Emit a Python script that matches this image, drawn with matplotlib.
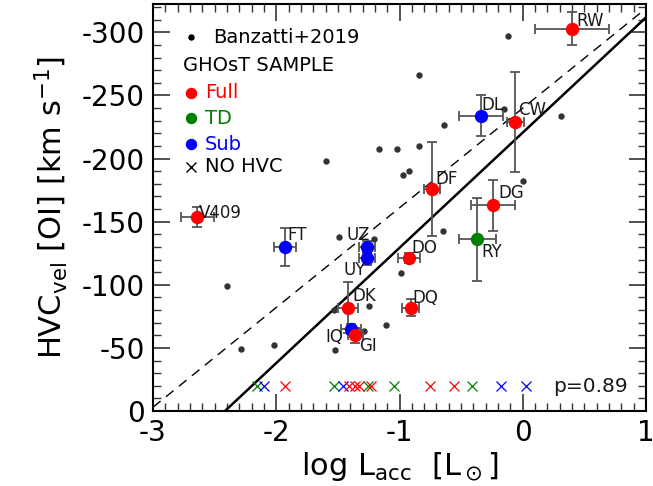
import numpy as np
import matplotlib
matplotlib.use('Agg')
from matplotlib import pyplot as plt
from matplotlib.ticker import MultipleLocator

plt.rcParams['font.family'] = ['DejaVu Sans']
plt.rcParams['mathtext.fontset'] = 'dejavusans'
plt.rcParams['axes.unicode_minus'] = False

# Banzatti+2019 comparison sample (log Lacc, HVC velocity)
banz_x = [-2.40, -2.29, -2.02, -1.60, -1.49, -1.21, -1.53, -1.25, -1.11, -1.29,
          -1.52, -0.99, -1.17, -1.02, -0.84, -0.97, -0.92, -0.65, -0.84, -0.64,
          -0.15, -0.12, 0.31, 0.00]
banz_y = [-99, -49, -52, -198, -138, -136, -80, -83, -68, -63,
          -48, -109, -208, -208, -210, -187, -190, -143, -266, -227,
          -239, -297, -234, -182]

# GHOsT sample
names = ['RW', 'DL', 'CW', 'DF', 'DG', 'RY', 'DO', 'DQ', 'V409', 'FT',
         'UZ', 'UY', 'DK', 'IQ', 'GI']
groups = ['Full', 'Sub', 'Full', 'Full', 'Full', 'TD', 'Full', 'Full', 'Full', 'Sub',
          'Sub', 'Sub', 'Full', 'Sub', 'Full']
lacc = [0.40, -0.34, -0.06, -0.74, -0.24, -0.37, -0.92, -0.91, -2.64, -1.93,
        -1.26, -1.26, -1.415, -1.395, -1.36]
lacc_err = [0.30, 0.18, 0.07, 0.065, 0.18, 0.15, 0.09, 0.07, 0.135, 0.09,
            0.065, 0.065, 0.08, 0.08, 0.06]
hvc = [-303, -234, -229, -176, -163, -136, -121, -82, -154, -130,
       -130, -121, -82, -65, -60]
hvc_err = [13, 16, 40, 37, 20, 33, 4, 7, 8, 15,
           5, 5, 20, 4, 6]

# label offsets (pixels)
lab_off = [(4, 8), (1, 11), (3, 12), (4, 10), (5, 12), (4, -13), (2, 10), (2, 10),
           (2, 4), (2, 12), (-21, 12), (-24, -12), (4, 12), (-25, -8), (4, -11)]

# targets without HVC detection
nohvc_x = [-2.153, -2.097, -1.929, -1.528, -1.460, -1.407, -1.360, -1.326,
           -1.252, -1.233, -1.044, -0.752, -0.554, -0.413, -0.178, 0.028]
nohvc_grp = ['TD', 'Sub', 'Full', 'TD', 'Sub', 'Full', 'Full', 'Full',
             'TD', 'Full', 'TD', 'Full', 'Full', 'TD', 'Sub', 'Sub']
nohvc_y = -20

colors = {'Full': 'red', 'TD': 'green', 'Sub': 'blue'}

# fits
fit_slope, fit_icpt = -91.3, -220.6
banz_slope, banz_icpt = -79.0, -240.0

fig = plt.figure(figsize=(6.53, 4.86), dpi=100)
ax = fig.add_axes([153 / 653, 1 - 411 / 486, 493 / 653, 407 / 486])

xx = np.array([-3, 1])
ax.plot(xx, banz_icpt + banz_slope * xx, 'k--', lw=1.0, dashes=(7, 5))
ax.plot(xx, fit_icpt + fit_slope * xx, 'k-', lw=1.8)

ax.plot(banz_x, banz_y, 'o', color='#333333', ms=3.6, zorder=3)

for i in range(len(names)):
    ax.errorbar(lacc[i], hvc[i], xerr=lacc_err[i], yerr=hvc_err[i], fmt='none',
                ecolor='#555555', elinewidth=1.3, capsize=3.6, capthick=1.3, zorder=4)
for i in range(len(names)):
    ax.plot(lacc[i], hvc[i], 'o', color=colors[groups[i]], ms=8.6, zorder=5)
    ax.annotate(names[i], (lacc[i], hvc[i]), xytext=lab_off[i],
                textcoords='offset pixels', fontsize=12, va='center', ha='left',
                color='#1a1a1a', zorder=6)

for i in range(len(nohvc_x)):
    ax.plot(nohvc_x[i], nohvc_y, 'x', color=colors[nohvc_grp[i]], ms=6.5, mew=0.9)

ax.text(0.963, 0.06, 'p=0.89', transform=ax.transAxes, fontsize=14.5,
        ha='right', va='center', color='#1a1a1a')

# legend built by hand
tr = ax.transAxes
ax.plot(0.077, 0.920, 'o', color='black', ms=3.6, transform=tr)
ax.text(0.121, 0.918, 'Banzatti+2019', transform=tr, fontsize=14, va='center')
ax.text(0.060, 0.848, 'GHOsT SAMPLE', transform=tr, fontsize=14, va='center')
leg_y = [0.782, 0.719, 0.656]
for lab, yy in zip(['Full', 'TD', 'Sub'], leg_y):
    ax.plot(0.077, yy, 'o', color=colors[lab], ms=7.2, transform=tr)
    ax.text(0.105, yy, lab, transform=tr, fontsize=14, va='center', color=colors[lab])
ax.plot(0.077, 0.600, 'x', color='black', ms=6.5, mew=1.0, transform=tr)
ax.text(0.105, 0.600, 'NO HVC', transform=tr, fontsize=14, va='center')

ax.set_xlim(-3, 1)
ax.set_ylim(0, -322.5)
ax.xaxis.set_major_locator(MultipleLocator(1))
ax.xaxis.set_minor_locator(MultipleLocator(0.1))
ax.yaxis.set_major_locator(MultipleLocator(50))
ax.yaxis.set_minor_locator(MultipleLocator(10))
ax.tick_params(which='both', direction='in', top=True, right=True, labelsize=20,
               color='#333333')
ax.tick_params(which='major', length=12, width=1.2, pad=6)
ax.tick_params(which='minor', length=6, width=1.0)
for s in ax.spines.values():
    s.set_linewidth(1.5)

ax.set_xlabel(r'log L$_{\rm acc}$  [L$_\odot$]', fontsize=22, labelpad=2)
ax.set_ylabel(r'HVC$_{\rm vel}$ [OI] [km s$^{-1}$]', fontsize=22, labelpad=8)

plt.savefig('out.png', dpi=100)
